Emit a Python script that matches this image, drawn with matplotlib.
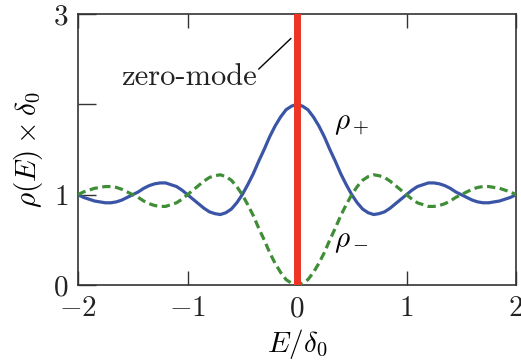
import numpy as np
import matplotlib.pyplot as plt

plt.rcParams['mathtext.fontset'] = 'cm'
plt.rcParams['font.family'] = 'serif'
plt.rcParams['font.serif'] = ['cmr10']

# energies in units of delta_0
E = np.round(np.arange(-2.0, 2.0001, 0.05), 2)

# (right half, mirrored for the left)
rho_p_half = [2.00, 1.98, 1.94, 1.86, 1.76, 1.64, 1.50, 1.37, 1.23, 1.11,
              1.00, 0.91, 0.84, 0.80, 0.78, 0.79, 0.81, 0.85, 0.90, 0.95,
              1.00, 1.05, 1.09, 1.11, 1.13, 1.13, 1.12, 1.10, 1.07, 1.03,
              1.00, 0.97, 0.94, 0.92, 0.91, 0.91, 0.92, 0.93, 0.95, 0.97,
              1.00]
rho_m_half = [0.00, 0.02, 0.06, 0.14, 0.24, 0.36, 0.50, 0.63, 0.77, 0.89,
              1.00, 1.09, 1.16, 1.20, 1.22, 1.21, 1.19, 1.15, 1.10, 1.05,
              1.00, 0.95, 0.91, 0.89, 0.87, 0.87, 0.88, 0.90, 0.93, 0.97,
              1.00, 1.03, 1.06, 1.08, 1.09, 1.09, 1.08, 1.07, 1.05, 1.03,
              1.00]
rho_plus = rho_p_half[:0:-1] + rho_p_half
rho_minus = rho_m_half[:0:-1] + rho_m_half

xticks = [-2, -1, 0, 1, 2]
xlabels = ['$-2$', '$-1$', '$0$', '$1$', '$2$']
yticks = [0, 1, 2, 3]
ylabels = ['$0$', '$1$', '', '$3$']

fig = plt.figure(figsize=(5.21, 3.64), dpi=100)
ax = fig.add_axes([78/521, 1 - 285/364, 438/521, 271/364])

ax.plot(E, rho_plus, color='#3a55a6', lw=2.3, zorder=3)
ax.plot(E, rho_minus, color='#3f8e37', lw=2.3, ls=(0, (2.6, 1.4)), zorder=3)
ax.axvline(0, color='#ee3424', lw=5, zorder=4)

ax.set_xlim(-2, 2)
ax.set_ylim(0, 3)
ax.set_xticks(xticks)
ax.set_xticklabels(xlabels)
ax.set_yticks(yticks)
ax.set_yticklabels(ylabels)
ax.tick_params(direction='in', length=10, width=1, top=True, labelsize=21,
               pad=8, colors='#333333', labelcolor='#222222')
ax.tick_params(axis='y', length=13, pad=7)
for s in ax.spines.values():
    s.set_linewidth(1.2)
    s.set_color('#333333')

ax.set_xlabel(r'$E/\delta_0$', fontsize=21, labelpad=3)
ax.set_ylabel(r'$\rho(E)\times\delta_0$', fontsize=21, labelpad=6)

ax.text(0.34, 1.77, r'$\rho_+$', fontsize=21, va='center')
ax.text(0.34, 0.48, r'$\rho_-$', fontsize=21, va='center')
ax.text(-0.37, 2.30, 'zero-mode', fontsize=22, ha='right', va='center',
        color='#222222')
ax.annotate('', xy=(-0.055, 2.73), xytext=(-0.35, 2.39),
            arrowprops=dict(arrowstyle='-', lw=1, color='black',
                            shrinkA=0, shrinkB=0))

fig.savefig('out.png', dpi=100)
